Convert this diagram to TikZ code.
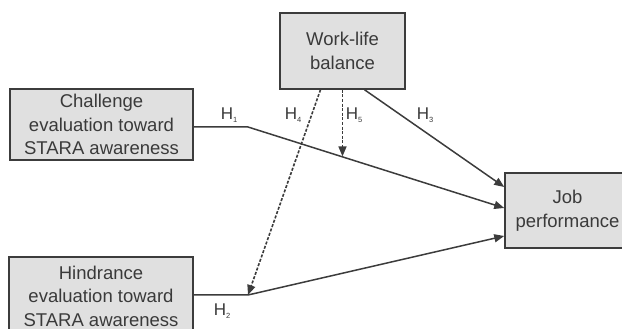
\documentclass[tikz,border=0pt]{standalone}
\usepackage{fontspec}
\setmainfont{Liberation Sans}
\usetikzlibrary{arrows.meta}
\definecolor{boxfill}{HTML}{E0E0E0}
\definecolor{boxline}{HTML}{3C3C3C}
\definecolor{txt}{HTML}{3A3A3A}
\newcommand{\hsub}[1]{\raisebox{-3pt}{\fontsize{7.5}{7.5}\selectfont #1}}
\tikzset{
  varbox/.style={draw=boxline, fill=boxfill, line width=1.5pt, inner sep=0pt,
    align=center, text=txt, font=\fontsize{18.5}{23.5}\selectfont},
  link/.style={draw=boxline, line width=1.5pt},
  tip/.style={-{Triangle[length=10pt,width=8pt]}},
  dlink/.style={link, line width=1.6pt, dash pattern=on 3pt off 1.6pt},
  hlab/.style={text=txt, font=\fontsize{17}{17}\selectfont, inner sep=0pt}
}
\begin{document}
\begin{tikzpicture}[x=1pt,y=1pt]
\useasboundingbox (0,0) rectangle (622,329);
\clip (0,0) rectangle (622,329);
\node[varbox, minimum width=183pt, minimum height=71pt] (chal) at (101.5,204.5)
  {Challenge\\evaluation toward\\STARA awareness};
\node[varbox, minimum width=184pt, minimum height=78pt] (hind) at (101,33)
  {Hindrance\\evaluation toward\\STARA awareness};
\node[varbox, minimum width=125pt, minimum height=76pt] (wlb) at (342.5,278)
  {Work-life\\balance};
\node[varbox, minimum width=125pt, minimum height=75pt] (jp) at (567.5,118.5)
  {Job\\performance};
\coordinate (c1) at (248,202);
\coordinate (c2) at (248,34);
\coordinate (h5end) at (342.5,172.6);
% H1
\draw[link, tip] (chal.east |- c1) -- (c1) -- ([yshift=2.5pt]jp.west);
% H2
\draw[link, tip] (hind.east |- c2) -- (c2) -- ([yshift=-25.5pt]jp.west);
% H3
\draw[link, tip] ([xshift=22pt]wlb.south) -- ([yshift=23.5pt]jp.west);
% H4
\draw[dlink, tip] ([xshift=-22pt]wlb.south) -- (c2);
% H5
\draw[dlink, tip] (wlb.south) -- (h5end);
\node[hlab] (l1) at (229,214) {H\hsub{1}};
\node[hlab] (l4) at (293,214) {H\hsub{4}};
\node[hlab] (l5) at (354,214) {H\hsub{5}};
\node[hlab] (l3) at (425,214) {H\hsub{3}};
\node[hlab] (l2) at (222,18) {H\hsub{2}};
\end{tikzpicture}
\end{document}
